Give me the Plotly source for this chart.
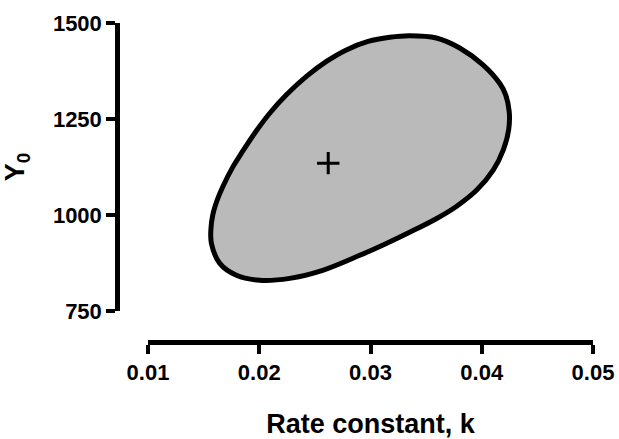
import plotly.graph_objects as go

# Confidence region contour (rate constant k, Y0)
contour_k = [0.01565, 0.01582, 0.01622, 0.01671, 0.01764, 0.01840, 0.01959, 0.02094,
             0.02244, 0.02424, 0.02604, 0.02783, 0.02978, 0.03173, 0.03352, 0.03592,
             0.03802, 0.04011, 0.04161, 0.04215, 0.04247, 0.04242, 0.04193, 0.04103,
             0.03955, 0.03775, 0.03595, 0.03352, 0.03128, 0.02903, 0.02570, 0.02274,
             0.02004, 0.01795, 0.01645, 0.01570]
contour_y0 = [961, 1000, 1039, 1073, 1126, 1161, 1213, 1265,
              1313, 1361, 1400, 1430, 1452, 1463, 1467, 1461,
              1435, 1391, 1343, 1313, 1269, 1222, 1169, 1117,
              1065, 1023, 991, 955, 924, 895, 856, 835,
              830, 843, 874, 926]

# Best-fit estimate
best_k = [0.0262]
best_y0 = [1135]

x_ticks = [0.01, 0.02, 0.03, 0.04, 0.05]
x_tick_labels = ["0.01", "0.02", "0.03", "0.04", "0.05"]
y_ticks = [750, 1000, 1250, 1500]
y_tick_labels = ["750", "1000", "1250", "1500"]

FONT = "Liberation Sans, Arial, sans-serif"

fig = go.Figure()
fig.add_trace(go.Scatter(
    x=contour_k + contour_k[:1], y=contour_y0 + contour_y0[:1],
    mode="lines", line=dict(color="black", width=5, shape="spline", smoothing=1.0),
    fill="toself", fillcolor="#bababa", hoverinfo="skip", showlegend=False,
))
fig.add_trace(go.Scatter(
    x=best_k, y=best_y0, mode="markers",
    marker=dict(symbol="cross-thin", size=16, line=dict(color="black", width=3)),
    showlegend=False,
))

W, H = 619, 439
ml, mr, mt, mb = 117, 26, 23, 97
pw = W - ml - mr
ph = H - mt - mb

fig.update_layout(
    width=W, height=H,
    margin=dict(l=ml, r=mr, t=mt, b=mb, pad=0),
    paper_bgcolor="white", plot_bgcolor="white",
    font=dict(family=FONT, color="black"),
    xaxis=dict(
        domain=[(148 - ml) / pw, 1], anchor="free", position=0,
        range=[0.01, 0.05], tickvals=x_ticks, ticktext=x_tick_labels,
        showline=True, linecolor="black", linewidth=4.5,
        ticks="outside", ticklen=9, tickwidth=3.5, tickcolor="black",
        showgrid=False, zeroline=False, automargin=False,
        tickfont=dict(family=FONT, size=22, color="black", weight="bold"),
        title=dict(text="<b>Rate constant, k</b>", standoff=44,
                   font=dict(family=FONT, size=27, color="black")),
    ),
    yaxis=dict(
        domain=[(H - mb - 311) / ph, 1], anchor="free", position=0,
        range=[750, 1500], tickvals=y_ticks, ticktext=y_tick_labels,
        showline=True, linecolor="black", linewidth=4.5,
        ticks="outside", ticklen=9, tickwidth=3.5, tickcolor="black",
        showgrid=False, zeroline=False, automargin=False,
        tickfont=dict(family=FONT, size=22, color="black", weight="bold"),
        title=dict(text="<b>Y<sub>0</sub></b>", standoff=22,
                   font=dict(family=FONT, size=27, color="black")),
    ),
)

fig.write_html(
    "out.html",
    config={"displayModeBar": False},
    post_script="document.body.style.margin='0';document.body.style.overflow='hidden';",
)
